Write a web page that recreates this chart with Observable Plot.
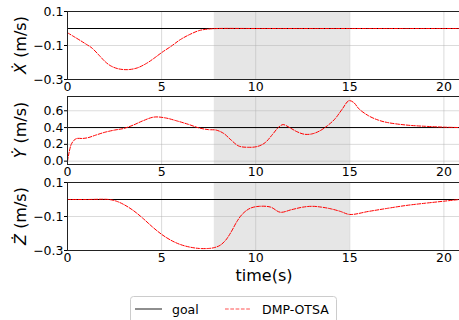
<!DOCTYPE html>
<html>
<head>
<meta charset="utf-8">
<script src="https://cdn.jsdelivr.net/npm/d3@7"></script>
<script src="https://cdn.jsdelivr.net/npm/@observablehq/plot@0.6"></script>
<style>
  body { margin: 0; background: white; }
  #chart { position: relative; width: 459px; height: 320px; overflow: hidden; background: white; font-family: "DejaVu Sans", sans-serif; }
  #chart > div { position: absolute; left: 0; }
</style>
</head>
<body>
<div id="chart"></div>
<script>
// ---- data ----
const xTicks = [0, 5, 10, 15, 20];
const xDomain = [0, 20.83];
const shade = [7.8, 15];

const tX = [0, 0.3, 0.7, 1.0, 1.3, 1.7, 2.0, 2.3, 2.7, 3.2, 3.7, 4.2, 4.6, 5.0, 5.5, 6.0, 6.5, 7.0, 7.5, 8.0, 10, 12, 14, 16, 18, 20, 20.83];
const vX = [-0.025, -0.045, -0.072, -0.093, -0.115, -0.16, -0.195, -0.22, -0.237, -0.242, -0.232, -0.205, -0.175, -0.142, -0.105, -0.065, -0.035, -0.012, -0.003, 0, 0, 0, 0, 0, 0, 0, 0];
const goalX = 0;
const yTicksX = [0.1, -0.1, -0.3];

const tY = [0, 0.1, 0.2, 0.35, 0.5, 0.8, 1.1, 1.5, 2.0, 2.5, 3.0, 3.5, 4.0, 4.6, 5.2, 5.8, 6.4, 7.0, 7.5, 7.9, 8.3, 8.7, 9.1, 9.6, 10.1, 10.5, 10.9, 11.2, 11.45, 11.8, 12.2, 12.6, 13.0, 13.4, 13.8, 14.2, 14.6, 14.95, 15.2, 15.5, 16.0, 16.5, 17.0, 18.0, 19.0, 20.0, 20.83];
const vY = [0, 0.12, 0.2, 0.25, 0.27, 0.27, 0.28, 0.31, 0.345, 0.37, 0.39, 0.43, 0.48, 0.525, 0.515, 0.48, 0.44, 0.395, 0.375, 0.37, 0.33, 0.25, 0.18, 0.165, 0.175, 0.22, 0.32, 0.4, 0.435, 0.4, 0.35, 0.32, 0.325, 0.36, 0.42, 0.5, 0.62, 0.72, 0.7, 0.62, 0.54, 0.49, 0.46, 0.43, 0.415, 0.405, 0.4];
const goalY = 0.4;
const yTicksY = [0.0, 0.2, 0.4, 0.6];

const tZ = [0, 1, 2.2, 2.6, 3.0, 3.5, 4.0, 4.5, 5.0, 5.5, 6.0, 6.5, 7.0, 7.5, 7.8, 8.1, 8.4, 8.7, 9.0, 9.3, 9.7, 10.2, 10.8, 11.3, 11.9, 12.5, 13.0, 13.5, 14.0, 14.5, 15.0, 16.0, 17.0, 18.0, 19.0, 20.0, 20.83];
const vZ = [0, 0, 0, -0.01, -0.03, -0.065, -0.11, -0.16, -0.205, -0.24, -0.265, -0.28, -0.288, -0.288, -0.283, -0.27, -0.24, -0.19, -0.13, -0.085, -0.052, -0.04, -0.045, -0.075, -0.06, -0.045, -0.04, -0.045, -0.055, -0.07, -0.088, -0.07, -0.052, -0.035, -0.022, -0.01, 0];
const goalZ = 0;
const yTicksZ = [0.1, -0.1, -0.3];

const labels = ["Ẋ", "Ẏ", "Ż"];
const seriesNames = ["goal", "DMP-OTSA"];
const xLabel = "time(s)";

// ---- drawing ----
const chart = document.getElementById("chart");
const FONT = "DejaVu Sans, sans-serif";

function panel({ts, vs, goal, ydom, yticks, letter, top, height, mb, xlabel}) {
  const data = ts.map((t, i) => ({t, v: vs[i]}));
  const svg = Plot.plot({
    width: 459, height,
    marginLeft: 67, marginRight: 0, marginTop: 11, marginBottom: mb,
    style: {fontFamily: FONT, fontSize: "12.5px", color: "#000", background: "transparent", overflow: "visible"},
    x: {domain: xDomain},
    y: {domain: ydom},
    marks: [
      Plot.rect([shade], {x1: d => d[0], x2: d => d[1], fill: "#808080", fillOpacity: 0.2}),
      Plot.gridX(xTicks, {stroke: "#b0b0b0", strokeOpacity: 0.45}),
      Plot.gridY(yticks, {stroke: "#b0b0b0", strokeOpacity: 0.45}),
      Plot.ruleY([goal], {stroke: "black", strokeWidth: 1}),
      Plot.line(data, {x: "t", y: "v", stroke: "red", strokeWidth: 1, strokeDasharray: "3.7,1.6", curve: "catmull-rom"}),
      Plot.frame({stroke: "#222", strokeWidth: 1}),
      Plot.axisX({ticks: xTicks, tickFormat: d3.format("d"), tickSize: 0, tickPadding: 3, label: null}),
      Plot.axisY({ticks: yticks, tickFormat: d3.format(".1f"), tickSize: 3, tickPadding: 1, label: null})
    ]
  });
  const s = d3.select(svg);
  const cy = 11 + (height - 11 - mb) / 2;
  const lab = s.append("text")
    .attr("transform", `translate(26,${cy}) rotate(-90)`)
    .attr("text-anchor", "middle")
    .attr("font-family", FONT)
    .attr("font-size", "16px")
    .attr("fill", "#000");
  lab.append("tspan").attr("font-style", "italic").text(letter);
  lab.append("tspan").text(" (m/s)");
  if (xlabel) {
    s.append("text")
      .attr("x", 264).attr("y", height - mb + 31)
      .attr("text-anchor", "middle")
      .attr("font-family", FONT)
      .attr("font-size", "16px")
      .attr("fill", "#000")
      .text(xlabel);
  }
  const div = document.createElement("div");
  div.style.top = top + "px";
  div.appendChild(svg);
  chart.appendChild(div);
}

panel({ts: tX, vs: vX, goal: goalX, ydom: [-0.3, 0.1], yticks: yTicksX, letter: labels[0], top: 0, height: 95, mb: 16});
panel({ts: tY, vs: vY, goal: goalY, ydom: [-0.04, 0.77], yticks: yTicksY, letter: labels[1], top: 85, height: 95, mb: 16});
panel({ts: tZ, vs: vZ, goal: goalZ, ydom: [-0.3, 0.1], yticks: yTicksZ, letter: labels[2], top: 171, height: 116, mb: 37, xlabel: xLabel});

// legend
const leg = document.createElement("div");
leg.style.top = "296px";
leg.style.left = "130px";
chart.appendChild(leg);
const ls = d3.select(leg).append("svg").attr("width", 208).attr("height", 30);
ls.append("rect").attr("x", 0.5).attr("y", 0.5).attr("width", 206).attr("height", 40)
  .attr("rx", 3).attr("fill", "white").attr("stroke", "#cccccc");
ls.append("line").attr("x1", 5).attr("x2", 32).attr("y1", 13).attr("y2", 13)
  .attr("stroke", "#444").attr("stroke-width", 1.2);
ls.append("text").attr("x", 42).attr("y", 17.5).attr("font-family", FONT).attr("font-size", "12.5px").text(seriesNames[0]);
ls.append("line").attr("x1", 95).attr("x2", 121).attr("y1", 13).attr("y2", 13)
  .attr("stroke", "#ff5050").attr("stroke-width", 1.2).attr("stroke-dasharray", "3.7,1.6");
ls.append("text").attr("x", 132).attr("y", 17.5).attr("font-family", FONT).attr("font-size", "12.5px").text(seriesNames[1]);
</script>
</body>
</html>
